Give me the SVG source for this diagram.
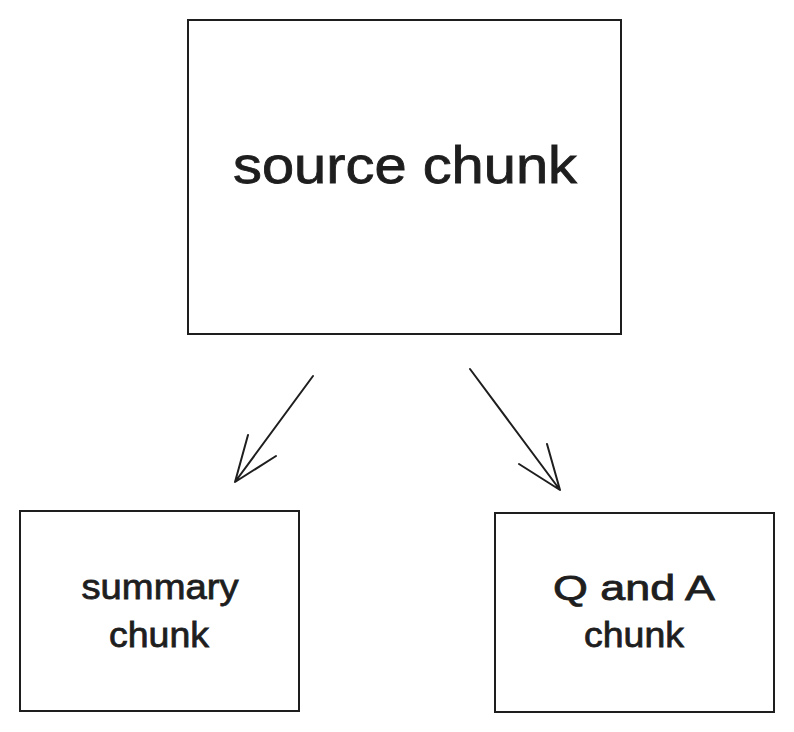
<svg xmlns="http://www.w3.org/2000/svg" width="794" height="732" viewBox="0 0 794 732">
<style>
.box{fill:#ffffff;stroke:#1e1e1e;stroke-width:2}
.lbl{font-family:"Liberation Sans",Arial,sans-serif;fill:#1e1e1e;text-anchor:middle;stroke:#1e1e1e;stroke-width:0.8}
.big{font-size:52px}
.sm{font-size:35px}
.conn{fill:none;stroke:#1e1e1e;stroke-width:2;stroke-linecap:round;stroke-linejoin:round}
</style>
<rect width="794" height="732" fill="#ffffff"/>
<g id="source">
<rect class="box" x="188" y="20" width="433" height="314"/>
<text class="lbl big" x="405" y="183" textLength="344" lengthAdjust="spacingAndGlyphs">source chunk</text>
</g>
<g id="summary">
<rect class="box" x="20" y="511" width="279" height="200"/>
<text class="lbl sm" x="160" y="599" textLength="157" lengthAdjust="spacingAndGlyphs">summary</text>
<text class="lbl sm" x="159" y="647" textLength="100" lengthAdjust="spacingAndGlyphs">chunk</text>
</g>
<g id="qa">
<rect class="box" x="495" y="513" width="279" height="199"/>
<text class="lbl sm" x="634" y="600" textLength="162" lengthAdjust="spacingAndGlyphs">Q and A</text>
<text class="lbl sm" x="634" y="647" textLength="100" lengthAdjust="spacingAndGlyphs">chunk</text>
</g>
<g id="connectors">
<path class="conn" d="M313,376 L235,482 M248,435 L235,482 L276,456"/>
<path class="conn" d="M470,369 L560,490 M547,444 L560,490 L519,464"/>
</g>
</svg>
